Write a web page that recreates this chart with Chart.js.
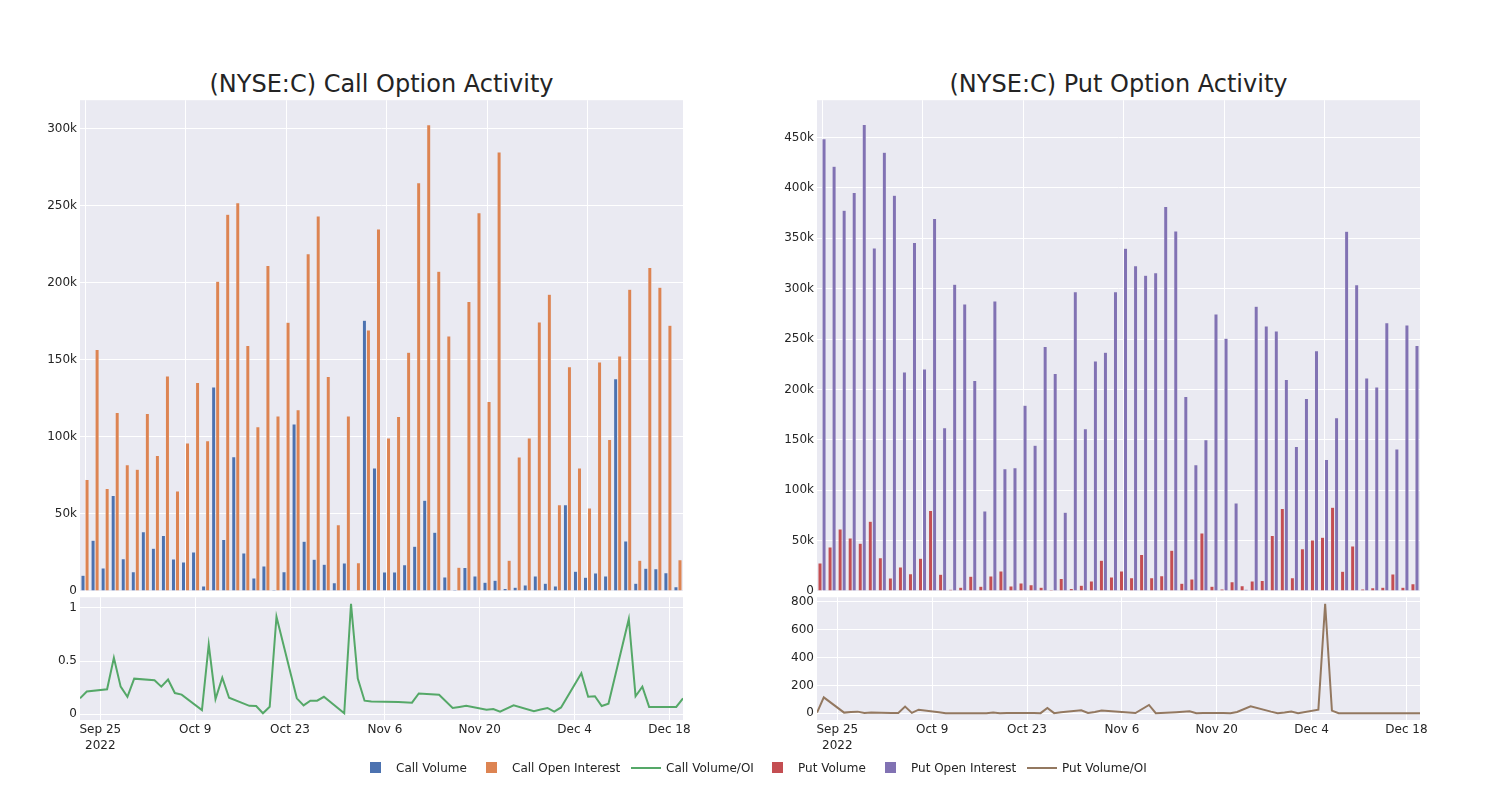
<!DOCTYPE html>
<html lang="en">
<head>
<meta charset="UTF-8">
<title>(NYSE:C) Option Activity</title>
<script src="https://cdn.jsdelivr.net/npm/chart.js"></script>
<style>
  body { margin: 0; background: #fff; width: 1500px; height: 800px; position: relative; overflow: hidden;
         font-family: 'DejaVu Sans', sans-serif; color: #242424; }
  canvas { position: absolute; }
  .title { position: absolute; top: 68px; width: 603px; text-align: center; font-size: 24px; line-height: 32px; }
  .leg-txt { position: absolute; top: 760px; font-size: 12px; line-height: 16px; white-space: nowrap; }
  .leg-sq { position: absolute; top: 762px; width: 11px; height: 11px; }
  .leg-ln { position: absolute; top: 767px; width: 30px; height: 2px; }
</style>
</head>
<body>
<div class="title" style="left:80px">(NYSE:C) Call Option Activity</div>
<div class="title" style="left:817px">(NYSE:C) Put Option Activity</div>

<canvas id="callBars" width="700" height="515" style="left:10px;top:90px"></canvas>
<canvas id="putBars" width="700" height="515" style="left:747px;top:90px"></canvas>
<canvas id="callLine" width="700" height="180" style="left:10px;top:587px"></canvas>
<canvas id="putLine" width="700" height="180" style="left:747px;top:587px"></canvas>
<div id="legend"></div>

<script>
// trading days shown (60 sessions)
const tradeDays = [
  '2022-09-22','2022-09-23','2022-09-26','2022-09-27','2022-09-28','2022-09-29','2022-09-30',
  '2022-10-03','2022-10-04','2022-10-05','2022-10-06','2022-10-07',
  '2022-10-10','2022-10-11','2022-10-12','2022-10-13','2022-10-14',
  '2022-10-17','2022-10-18','2022-10-19','2022-10-20','2022-10-21',
  '2022-10-24','2022-10-25','2022-10-26','2022-10-27','2022-10-28',
  '2022-10-31','2022-11-01','2022-11-02','2022-11-03','2022-11-04',
  '2022-11-08','2022-11-10','2022-11-11',
  '2022-11-14','2022-11-16','2022-11-17','2022-11-18',
  '2022-11-21','2022-11-22','2022-11-23','2022-11-25',
  '2022-11-28','2022-11-29','2022-11-30','2022-12-01','2022-12-02',
  '2022-12-05','2022-12-06','2022-12-07','2022-12-08','2022-12-09',
  '2022-12-12','2022-12-13','2022-12-14','2022-12-15','2022-12-16',
  '2022-12-19','2022-12-20'
];

const callVolume = [10200, 33000, 15000, 62000, 21000, 12500, 38500, 27700, 36000, 20800,
  18800, 25300, 3200, 132500, 33500, 87200, 24700, 8400, 16200, 1000,
  12500, 108400, 32300, 20600, 17300, 5400, 18200, 300, 175800, 79900,
  12300, 12300, 17100, 29000, 58900, 38100, 9100, 900, 15200, 9700,
  5600, 6900, 1600, 2400, 3900, 9700, 5000, 3200, 56000, 12800,
  8900, 11700, 9700, 137700, 32500, 5000, 14700, 14500, 11900, 2800];

const callOpenInterest = [72300, 156700, 66500, 115800, 82000, 79000, 115200, 87900, 139600, 64900,
  96100, 135300, 97600, 201000, 244600, 252000, 159300, 106700, 211300, 113600,
  174500, 117700, 219000, 243500, 139200, 43000, 113600, 18400, 169500, 235000,
  99400, 113200, 155000, 265000, 302600, 207600, 165600, 15400, 188000, 245500,
  123000, 285000, 19900, 87000, 99400, 174700, 192600, 56000, 145500, 79900,
  53900, 148700, 98300, 152600, 195900, 19900, 210000, 197200, 172500, 20300];

const callVolOI = [0.15, 0.215, 0.235, 0.53, 0.26, 0.165, 0.335, 0.32, 0.26, 0.327,
  0.2, 0.185, 0.04, 0.655, 0.143, 0.343, 0.156, 0.08, 0.078, 0.01,
  0.072, 0.916, 0.15, 0.084, 0.128, 0.128, 0.165, 0.01, 1.037, 0.336,
  0.128, 0.12, 0.115, 0.11, 0.196, 0.183, 0.06, 0.07, 0.08, 0.043,
  0.05, 0.025, 0.084, 0.03, 0.045, 0.06, 0.025, 0.065, 0.385, 0.165,
  0.17, 0.078, 0.1, 0.895, 0.17, 0.26, 0.07, 0.07, 0.07, 0.15];

const putVolume = [27800, 43700, 61600, 52600, 47400, 69200, 33100, 12900, 23800, 17200,
  32500, 79800, 16600, 1700, 3600, 14600, 4600, 14900, 19900, 5000,
  7900, 6300, 3600, 1300, 12300, 2600, 5600, 9900, 30500, 13900,
  19900, 13200, 36100, 13200, 15200, 40400, 7600, 11900, 57600, 4600,
  2000, 9300, 5300, 9900, 10300, 55000, 81800, 13200, 42000, 50700,
  53300, 83100, 19500, 44700, 2000, 3300, 3600, 16900, 3600, 7300];

const putOpenInterest = [448700, 421500, 377800, 395400, 463000, 340400, 435400, 392700, 217200, 345700,
  220200, 369500, 161900, 304300, 284800, 208900, 79500, 287700, 121200, 122200,
  184400, 144700, 242700, 215900, 78100, 297000, 160900, 228100, 236800, 297000,
  340000, 322800, 313200, 315900, 381500, 357300, 193000, 125200, 150000, 274800,
  250700, 87400, 1700, 282500, 262900, 258000, 209900, 143400, 191000, 238400,
  130500, 171900, 357000, 304000, 211300, 202300, 266200, 141000, 263900, 243700];

const putVolOI = [5, 114, 5, 10, 12, 3, 6, 3, 3, 48,
  3, 26, 8, 1, 1, 1, 1, 1, 6, 1,
  3, 3, 3, 1, 38, 1, 8, 22, 2, 10,
  20, 16, 2, 60, 1, 8, 14, 1, 3, 2,
  1, 10, 50, 12, 1, 6, 13, 1, 26, 786,
  19, 1, 1, 1, 1, 1, 1, 1, 1, 1];

// axis ticks
const xTickDates = ['2022-09-25', '2022-10-09', '2022-10-23', '2022-11-06', '2022-11-20', '2022-12-04', '2022-12-18'];
const xTickLabels = [['Sep 25', '2022'], 'Oct 9', 'Oct 23', 'Nov 6', 'Nov 20', 'Dec 4', 'Dec 18'];
const callBarTicks = [0, 50000, 100000, 150000, 200000, 250000, 300000];
const putBarTicks = [0, 50000, 100000, 150000, 200000, 250000, 300000, 350000, 400000, 450000];
const callRatioTicks = [0, 0.5, 1];
const putRatioTicks = [0, 200, 400, 600, 800];

const BLUE = '#4C72B0', ORANGE = '#DD8452', GREEN = '#55A868',
      RED = '#C44E52', PURPLE = '#8172B3', BROWN = '#937860';
const BG = '#EAEAF2', INK = '#242424';

Chart.defaults.font.family = "'DejaVu Sans', sans-serif";
Chart.defaults.font.size = 12;
Chart.defaults.color = INK;

const day0 = Date.parse('2022-09-25');
const dayNum = s => Math.round((Date.parse(s) - day0) / 86400000);

const plotBg = {
  id: 'plotBg',
  beforeDraw(chart) {
    const { ctx, chartArea: a } = chart;
    ctx.save();
    ctx.fillStyle = BG;
    ctx.fillRect(a.left, a.top, a.right - a.left, a.bottom - a.top);
    ctx.restore();
  }
};

const kLabel = v => v === 0 ? '0' : (v / 1000) + 'k';
const setTicks = vals => scale => { scale.ticks = vals.map(v => ({ value: v })); };

function barChart(id, vol, oi, colors, names, yMax, yTicks) {
  return new Chart(document.getElementById(id), {
    type: 'bar',
    data: {
      labels: tradeDays,
      datasets: [
        { label: names[0], data: vol, backgroundColor: colors[0], borderColor: 'rgba(234,234,242,0.6)', borderWidth: 0.5 },
        { label: names[1], data: oi, backgroundColor: colors[1], borderColor: 'rgba(234,234,242,0.6)', borderWidth: 0.5 }
      ]
    },
    options: {
      responsive: false, animation: false,
      layout: { padding: { left: 10, top: 10, right: 27, bottom: 14 } },
      plugins: { legend: { display: false }, tooltip: { enabled: false } },
      datasets: { bar: { categoryPercentage: 0.8, barPercentage: 1.0 } },
      scales: {
        x: {
          type: 'category',
          ticks: { display: false },
          grid: { offset: false, drawTicks: false, lineWidth: 1,
                  color: c => (c.index % 10 === 0 ? '#ffffff' : 'rgba(0,0,0,0)') },
          border: { display: false },
          afterFit: s => { s.height = 0; }
        },
        y: {
          min: 0, max: yMax,
          afterBuildTicks: setTicks(yTicks),
          ticks: { callback: kLabel, padding: 3 },
          grid: { color: '#ffffff', lineWidth: 1, drawTicks: false },
          border: { display: false },
          afterFit: s => { s.width = 60; }
        }
      }
    },
    plugins: [plotBg]
  });
}

function lineChart(id, vals, color, name, yMin, yMax, yTicks) {
  return new Chart(document.getElementById(id), {
    type: 'line',
    data: {
      datasets: [{
        label: name,
        data: tradeDays.map((d, i) => ({ x: dayNum(d), y: vals[i] })),
        borderColor: color, borderWidth: 2, pointRadius: 0, tension: 0, fill: false
      }]
    },
    options: {
      responsive: false, animation: false,
      layout: { padding: { left: 10, top: 10, right: 27, bottom: 7 } },
      plugins: { legend: { display: false }, tooltip: { enabled: false } },
      scales: {
        x: {
          type: 'linear',
          min: dayNum(tradeDays[0]), max: dayNum(tradeDays[tradeDays.length - 1]),
          afterBuildTicks: setTicks(xTickDates.map(dayNum)),
          ticks: {
            autoSkip: false, maxRotation: 0, padding: 2,
            font: { lineHeight: 1.35 },
            callback: v => xTickLabels[xTickDates.map(dayNum).indexOf(v)]
          },
          grid: { color: '#ffffff', lineWidth: 1, drawTicks: false },
          border: { display: false },
          afterFit: s => { s.height = 40; }
        },
        y: {
          min: yMin, max: yMax,
          afterBuildTicks: setTicks(yTicks),
          ticks: { padding: 3, callback: v => String(v) },
          grid: { color: '#ffffff', lineWidth: 1, drawTicks: false },
          border: { display: false },
          afterFit: s => { s.width = 60; }
        }
      }
    },
    plugins: [plotBg]
  });
}

barChart('callBars', callVolume, callOpenInterest, [BLUE, ORANGE], ['Call Volume', 'Call Open Interest'], 318600, callBarTicks);
barChart('putBars', putVolume, putOpenInterest, [RED, PURPLE], ['Put Volume', 'Put Open Interest'], 487000, putBarTicks);
lineChart('callLine', callVolOI, GREEN, 'Call Volume/OI', -0.053, 1.099, callRatioTicks);
lineChart('putLine', putVolOI, BROWN, 'Put Volume/OI', -48, 833, putRatioTicks);

// shared legend under both panels
const legendItems = [
  { name: 'Call Volume', color: BLUE, kind: 'sq' },
  { name: 'Call Open Interest', color: ORANGE, kind: 'sq' },
  { name: 'Call Volume/OI', color: GREEN, kind: 'ln' },
  { name: 'Put Volume', color: RED, kind: 'sq' },
  { name: 'Put Open Interest', color: PURPLE, kind: 'sq' },
  { name: 'Put Volume/OI', color: BROWN, kind: 'ln' }
];
const legendCenters = [375.5, 491.5, 645.5, 777.5, 890.5, 1041.5];
const legend = document.getElementById('legend');
legendItems.forEach((it, i) => {
  const c = legendCenters[i];
  const sym = document.createElement('div');
  sym.className = it.kind === 'sq' ? 'leg-sq' : 'leg-ln';
  sym.style.background = it.color;
  sym.style.left = (it.kind === 'sq' ? c - 5.5 : c - 15) + 'px';
  legend.appendChild(sym);
  const t = document.createElement('div');
  t.className = 'leg-txt';
  t.style.left = (c + 20.5) + 'px';
  t.textContent = it.name;
  legend.appendChild(t);
});
</script>
</body>
</html>
